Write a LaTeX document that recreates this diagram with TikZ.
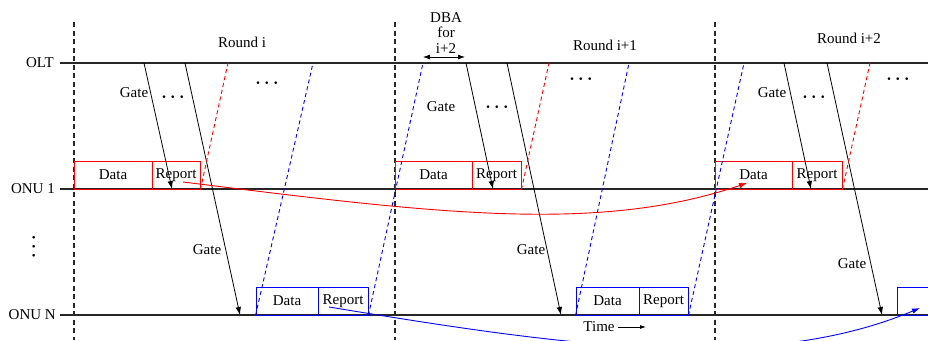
\documentclass[tikz,border=0pt]{standalone}
\usepackage{fontspec}
\setmainfont{Liberation Serif}
\usetikzlibrary{arrows.meta,calc}
\begin{document}
\begin{tikzpicture}[x=1pt,y=-1pt,
  txt/.style={font=\fontsize{15}{15.5}\selectfont, inner sep=0pt},
  dotsty/.style={font=\fontsize{17.5}{17.5}\selectfont\boldmath, inner sep=0pt},
  axis/.style={line width=1.1pt, black!85},
  sep/.style={line width=1.1pt, black!85, dash pattern=on 5pt off 3.5pt},
  gatearrow/.style={line width=0.8pt, -{Latex[length=8pt,width=5.5pt]}},
  reddash/.style={red, line width=0.9pt, dash pattern=on 4pt off 3pt},
  bluedash/.style={blue, line width=0.9pt, dash pattern=on 4pt off 3pt},
  slot/.style={draw, line width=0.9pt, minimum height=28pt, inner sep=0pt,
               font=\fontsize{15}{15.5}\selectfont},
  redslot/.style={slot, draw=red},
  blueslot/.style={slot, draw=blue},
  curve/.style={line width=0.9pt, -{Latex[length=8pt,width=5.5pt]}},
]
\useasboundingbox (0,0) rectangle (928,340);
\clip (0,0) rectangle (928,340);

% station labels
\node[txt, anchor=east] (olt)  at (54,63)  {OLT};
\node[txt, anchor=east] (onu1) at (55,189) {ONU 1};
\node[txt, anchor=east] (onuN) at (56,315) {ONU N};
\node[dotsty, rotate=90] (vd) at (34,247) {$\cdots$};

% time axes
\coordinate (oltL) at (60,63);   \coordinate (oltR) at (928,63);
\coordinate (o1L)  at (60,189);  \coordinate (o1R)  at (928,189);
\coordinate (oNL)  at (60,315);  \coordinate (oNR)  at (928,315);
\draw[axis] (oltL) -- (oltR);
\draw[axis] (o1L) -- (o1R);
\draw[axis] (oNL) -- (oNR);

% round boundaries
\coordinate (s1t) at (74,22);  \coordinate (s1b) at (74,340);
\coordinate (s2t) at (395,22); \coordinate (s2b) at (395,340);
\coordinate (s3t) at (715,22); \coordinate (s3b) at (715,340);
\draw[sep] (s1t) -- (s1b);
\draw[sep] (s2t) -- (s2b);
\draw[sep] (s3t) -- (s3b);

% round titles
\node[txt] (rnd1) at (242,42) {Round i};
\node[txt] (rnd2) at (605,45) {Round i+1};
\node[txt] (rnd3) at (849,38) {Round i+2};

% DBA interval
\node[txt, align=center] (dba) at (446,33) {DBA\\for\\i+2};
\coordinate (dbaL) at (423,57); \coordinate (dbaR) at (465,57);
\draw[line width=0.8pt, {Latex[length=7pt,width=5pt]}-{Latex[length=7pt,width=5pt]}] (dbaL) -- (dbaR);

% ---------- upstream slots ----------
\node[redslot, minimum width=78pt] (d1) at (113,175)   {Data};
\node[redslot, minimum width=48pt] (r1) at (176,175)   {Report};
\node[redslot, minimum width=77pt] (d2) at (433.5,175) {Data};
\node[redslot, minimum width=49pt] (r2) at (496.5,175) {Report};
\node[redslot, minimum width=77pt] (d3) at (753.5,175) {Data};
\node[redslot, minimum width=50pt] (r3) at (817,175)   {Report};

\node[blueslot, minimum width=62pt] (bd1) at (287,301)   {Data};
\node[blueslot, minimum width=50pt] (br1) at (343,301)   {Report};
\node[blueslot, minimum width=63pt] (bd2) at (607.5,301) {Data};
\node[blueslot, minimum width=49pt] (br2) at (663.5,301) {Report};
\node[blueslot, minimum width=78pt] (bd3) at (936,301)   {};

% ---------- gate messages ----------
\coordinate (g1s) at (144,63);  \coordinate (g1e) at (172,189);
\coordinate (g2s) at (466,63);  \coordinate (g2e) at (493,189);
\coordinate (g3s) at (784,63);  \coordinate (g3e) at (811,189);
\coordinate (h1s) at (185,63);  \coordinate (h1e) at (240,315);
\coordinate (h2s) at (507,63);  \coordinate (h2e) at (561,315);
\coordinate (h3s) at (827,63);  \coordinate (h3e) at (882,315);
\draw[gatearrow] (g1s) -- (g1e);
\draw[gatearrow] (g2s) -- (g2e);
\draw[gatearrow] (g3s) -- (g3e);
\draw[gatearrow] (h1s) -- (h1e);
\draw[gatearrow] (h2s) -- (h2e);
\draw[gatearrow] (h3s) -- (h3e);

\node[txt] (gl1) at (134,93)  {Gate};
\node[txt] (gl2) at (441,107) {Gate};
\node[txt] (gl3) at (772,93)  {Gate};
\node[txt] (gm1) at (207,250) {Gate};
\node[txt] (gm2) at (531,250) {Gate};
\node[txt] (gm3) at (852,264) {Gate};

\node[dotsty] (dt1) at (173,97)  {$\cdots$};
\node[dotsty] (dt2) at (497,107) {$\cdots$};
\node[dotsty] (dt3) at (814,97)  {$\cdots$};
\node[dotsty] (du1) at (267,83)  {$\cdots$};
\node[dotsty] (du2) at (581,79)  {$\cdots$};
\node[dotsty] (du3) at (898,79)  {$\cdots$};

% ---------- report propagation (dashed) ----------
\coordinate (rt1) at (228,63); \coordinate (rt2) at (549,63); \coordinate (rt3) at (870,63);
\draw[reddash] (r1.south east) -- (rt1);
\draw[reddash] (r2.south east) -- (rt2);
\draw[reddash] (r3.south east) -- (rt3);

\coordinate (bt1) at (313,63); \coordinate (bt2) at (423,63);
\coordinate (bt3) at (629,63); \coordinate (bt4) at (744,63);
\draw[bluedash] (bd1.south west) -- (bt1);
\draw[bluedash] (br1.south east) -- (bt2);
\draw[bluedash] (bd2.south west) -- (bt3);
\draw[bluedash] (br2.south east) -- (bt4);

% ---------- report used two rounds later ----------
\coordinate (rs) at (183,182); \coordinate (re) at (747,183);
\draw[curve, red] (rs) .. controls (433,213) and (597,234) .. (re);
\coordinate (bs) at (329,307); \coordinate (be) at (920,308);
\draw[curve, blue] (bs) .. controls (560,345) and (760,375) .. (be);

% time direction
\node[txt] (time) at (599,327) {Time};
\coordinate (tend) at (646,327);
\draw[line width=0.8pt, -{Latex[length=6pt,width=4pt]}] ([xshift=3pt]time.east) -- (tend);
\end{tikzpicture}
\end{document}
